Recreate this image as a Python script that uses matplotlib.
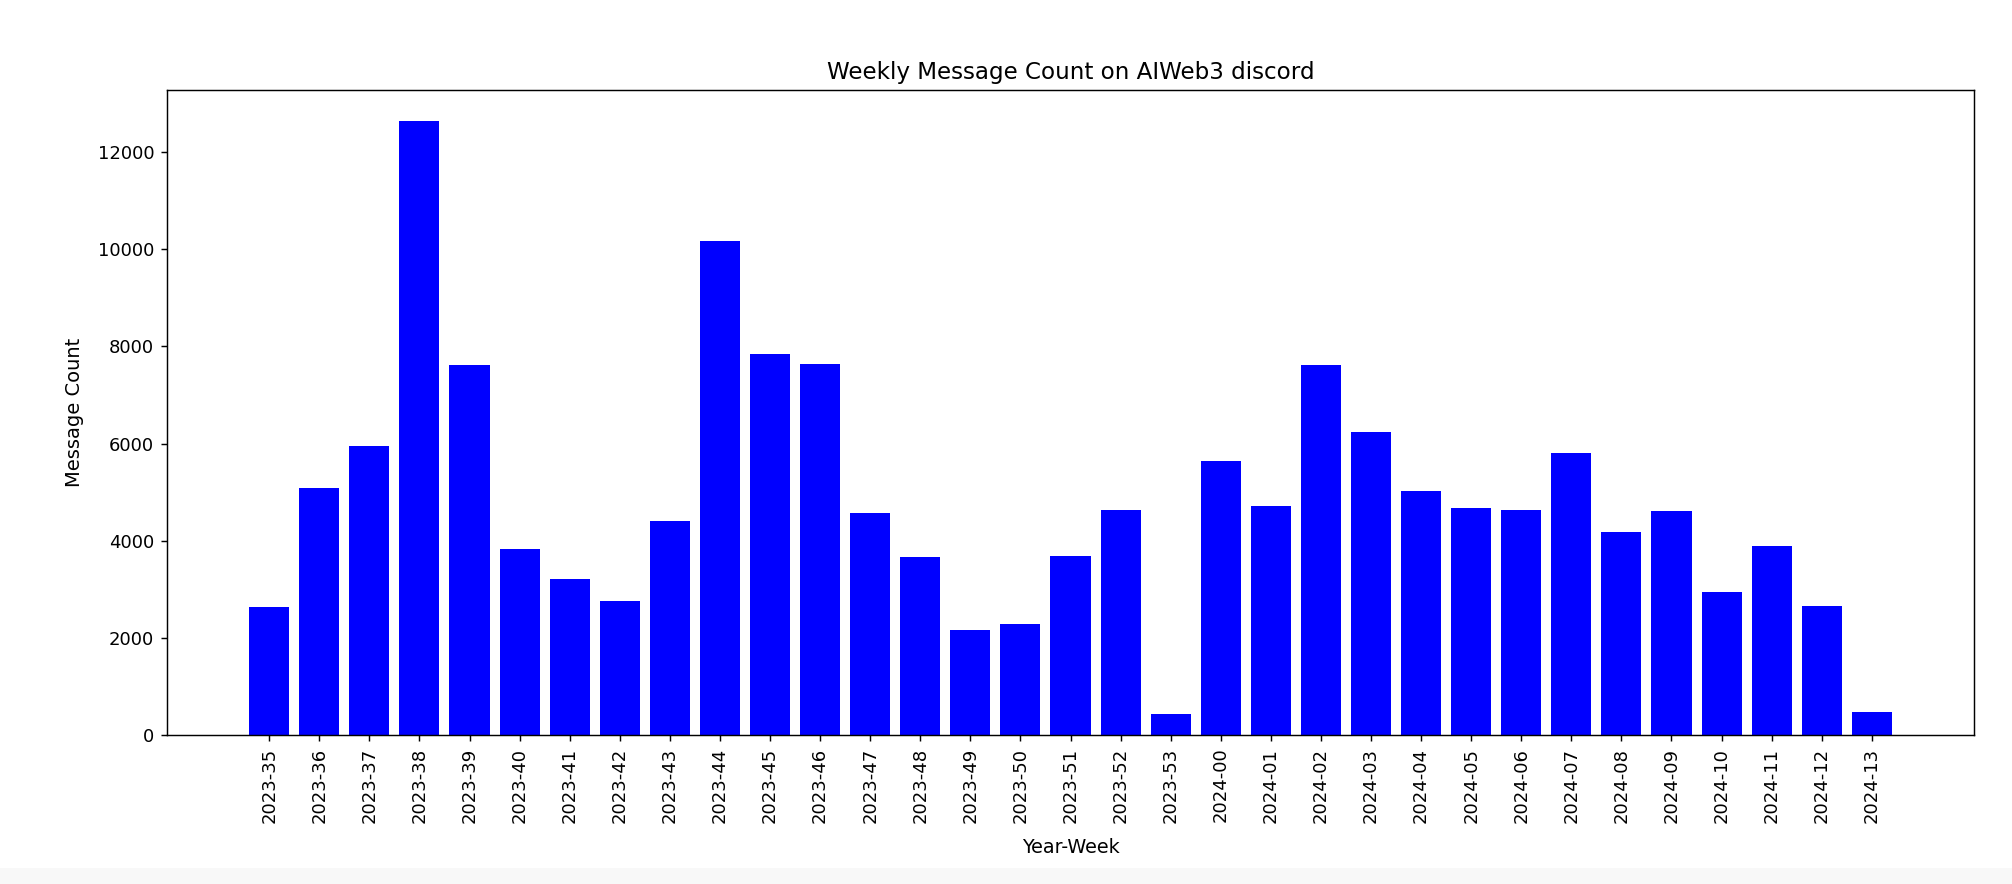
import matplotlib
matplotlib.use("Agg")
import matplotlib.pyplot as plt
from matplotlib.patches import Rectangle

weeks = ["2023-35", "2023-36", "2023-37", "2023-38", "2023-39", "2023-40", "2023-41",
         "2023-42", "2023-43", "2023-44", "2023-45", "2023-46", "2023-47", "2023-48",
         "2023-49", "2023-50", "2023-51", "2023-52", "2023-53", "2024-00", "2024-01",
         "2024-02", "2024-03", "2024-04", "2024-05", "2024-06", "2024-07", "2024-08",
         "2024-09", "2024-10", "2024-11", "2024-12", "2024-13"]
counts = [2640, 5090, 5950, 12648, 7620, 3827, 3217,
          2765, 4403, 10179, 7854, 7648, 4575, 3656,
          2160, 2277, 3690, 4636, 439, 5638, 4719,
          7620, 6241, 5034, 4684, 4636, 5809, 4170,
          4602, 2936, 3882, 2647, 466]

S = 1.3
plt.rcParams.update({
    "font.family": "DejaVu Sans",
    "xtick.major.size": 3.5 * S,
    "ytick.major.size": 3.5 * S,
    "xtick.major.width": 0.8 * S,
    "ytick.major.width": 0.8 * S,
    "xtick.major.pad": 3.5 * S,
    "ytick.major.pad": 3.5 * S,
    "axes.linewidth": 0.8 * S,
    "axes.titlepad": 6 * S,
})

fig = plt.figure(figsize=(20.12, 8.84), dpi=100)
fig.patches.append(Rectangle((0, 0), 1, 16 / 884, transform=fig.transFigure,
                             facecolor="#f8f8f8", edgecolor="none", zorder=-1))
ax = fig.add_axes([167 / 2012, 1 - 735 / 884, (1974 - 167) / 2012, (735 - 90) / 884])
ax.bar(weeks, counts, color="blue")
ax.set_title("Weekly Message Count on AIWeb3 discord", fontsize=16.6)
ax.set_xlabel("Year-Week", fontsize=13.8, labelpad=11)
ax.set_ylabel("Message Count", fontsize=14.0, labelpad=10)
ax.tick_params(axis="x", labelrotation=90, labelsize=10 * S)
ax.tick_params(axis="y", labelsize=10 * S)
fig.savefig("out.png", dpi=100)
